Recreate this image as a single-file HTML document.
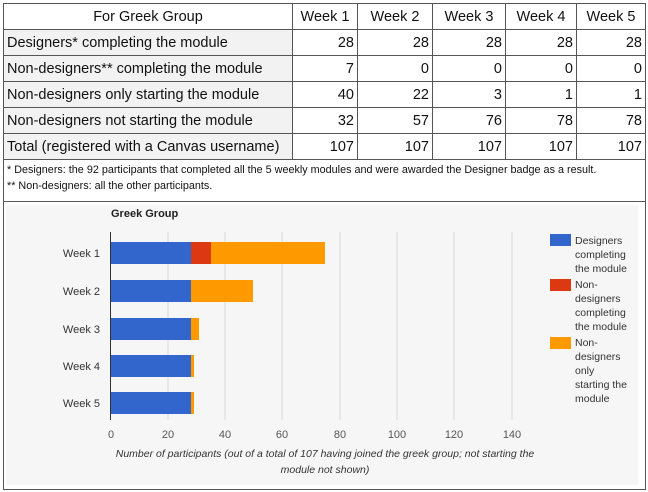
<!DOCTYPE html>
<html><head><meta charset="utf-8"><style>
body{margin:0;width:648px;height:492px;background:#fff;font-family:"Liberation Sans",sans-serif;overflow:hidden;position:relative}
table{position:absolute;left:3px;top:3px;border-collapse:collapse;font-size:14.5px;color:#111}
td{border:1px solid #555;height:25px;padding:0 3px;text-align:right}
td:first-child{text-align:left;background:#f2f2f2}
tr.h td{text-align:center;background:#fff}
.foot{position:absolute;left:3px;top:159px;width:641px;height:42px;border:1px solid #555;border-top:none;font-size:10.8px;color:#111}
.chart{position:absolute;left:3px;top:201px;width:641px;height:288px;border:1px solid #555;border-top:none}
</style></head><body>
<table>
<tr class="h"><td style="width:282px">For Greek Group</td><td style="width:58px">Week 1</td><td style="width:68px">Week 2</td><td style="width:66px">Week 3</td><td style="width:64px">Week 4</td><td style="width:62px">Week 5</td></tr>
<tr><td>Designers* completing the module</td><td>28</td><td>28</td><td>28</td><td>28</td><td>28</td></tr>
<tr><td>Non-designers** completing the module</td><td>7</td><td>0</td><td>0</td><td>0</td><td>0</td></tr>
<tr><td>Non-designers only starting the module</td><td>40</td><td>22</td><td>3</td><td>1</td><td>1</td></tr>
<tr><td>Non-designers not starting the module</td><td>32</td><td>57</td><td>76</td><td>78</td><td>78</td></tr>
<tr><td>Total (registered with a Canvas username)</td><td>107</td><td>107</td><td>107</td><td>107</td><td>107</td></tr>
</table>
<div class="foot"><div style="position:absolute;left:3px;top:5px">* Designers: the 92 participants that completed all the 5 weekly modules and were awarded the Designer badge as a result.</div><div style="position:absolute;left:3px;top:21px">** Non-designers: all the other participants.</div></div>
<div class="chart"></div>
<svg style="position:absolute;left:0;top:0" width="648" height="492" font-family="Liberation Sans, sans-serif">
<rect x="6" y="205" width="632" height="280" fill="#f6f6f6"/>
<text x="111" y="217" font-size="11" font-weight="bold" fill="#222">Greek Group</text>
<g stroke="#d8d8d8" stroke-width="1">
<line x1="168" y1="232" x2="168" y2="420"/><line x1="225" y1="232" x2="225" y2="420"/><line x1="282" y1="232" x2="282" y2="420"/><line x1="340" y1="232" x2="340" y2="420"/><line x1="397" y1="232" x2="397" y2="420"/><line x1="454" y1="232" x2="454" y2="420"/><line x1="512" y1="232" x2="512" y2="420"/>
</g>
<line x1="110.5" y1="232" x2="110.5" y2="420" stroke="#333"/>
<g fill="#3366cc"><rect x="111" y="242" width="80" height="22"/><rect x="111" y="280" width="80" height="22"/><rect x="111" y="318" width="80" height="22"/><rect x="111" y="355" width="80" height="22"/><rect x="111" y="392" width="80" height="22"/></g>
<rect x="191" y="242" width="20" height="22" fill="#dc3912"/>
<g fill="#ff9900"><rect x="211" y="242" width="114" height="22"/><rect x="191" y="280" width="62" height="22"/><rect x="191" y="318" width="8" height="22"/><rect x="191" y="355" width="3" height="22"/><rect x="191" y="392" width="3" height="22"/></g>
<g font-size="11" fill="#333" text-anchor="end"><text x="100" y="257">Week 1</text><text x="100" y="295">Week 2</text><text x="100" y="333">Week 3</text><text x="100" y="370">Week 4</text><text x="100" y="407">Week 5</text></g>
<g font-size="11" fill="#555" text-anchor="middle"><text x="111" y="438">0</text><text x="168" y="438">20</text><text x="225" y="438">40</text><text x="282" y="438">60</text><text x="340" y="438">80</text><text x="397" y="438">100</text><text x="454" y="438">120</text><text x="512" y="438">140</text></g>
<g font-size="10.5" fill="#333" font-style="italic" text-anchor="middle"><text x="325" y="457">Number of participants (out of a total of 107 having joined the greek group; not starting the</text><text x="325" y="473">module not shown)</text></g>
<rect x="550" y="234" width="21" height="12" fill="#3366cc"/><rect x="550" y="279" width="21" height="12" fill="#dc3912"/><rect x="550" y="337" width="21" height="12" fill="#ff9900"/>
<g font-size="10.5" fill="#333"><text x="575" y="244">Designers</text><text x="575" y="258">completing</text><text x="575" y="272">the module</text>
<text x="575" y="288">Non-</text><text x="575" y="302">designers</text><text x="575" y="316">completing</text><text x="575" y="330">the module</text>
<text x="575" y="346">Non-</text><text x="575" y="360">designers</text><text x="575" y="374">only</text><text x="575" y="388">starting the</text><text x="575" y="402">module</text></g>
</svg>
</body></html>
